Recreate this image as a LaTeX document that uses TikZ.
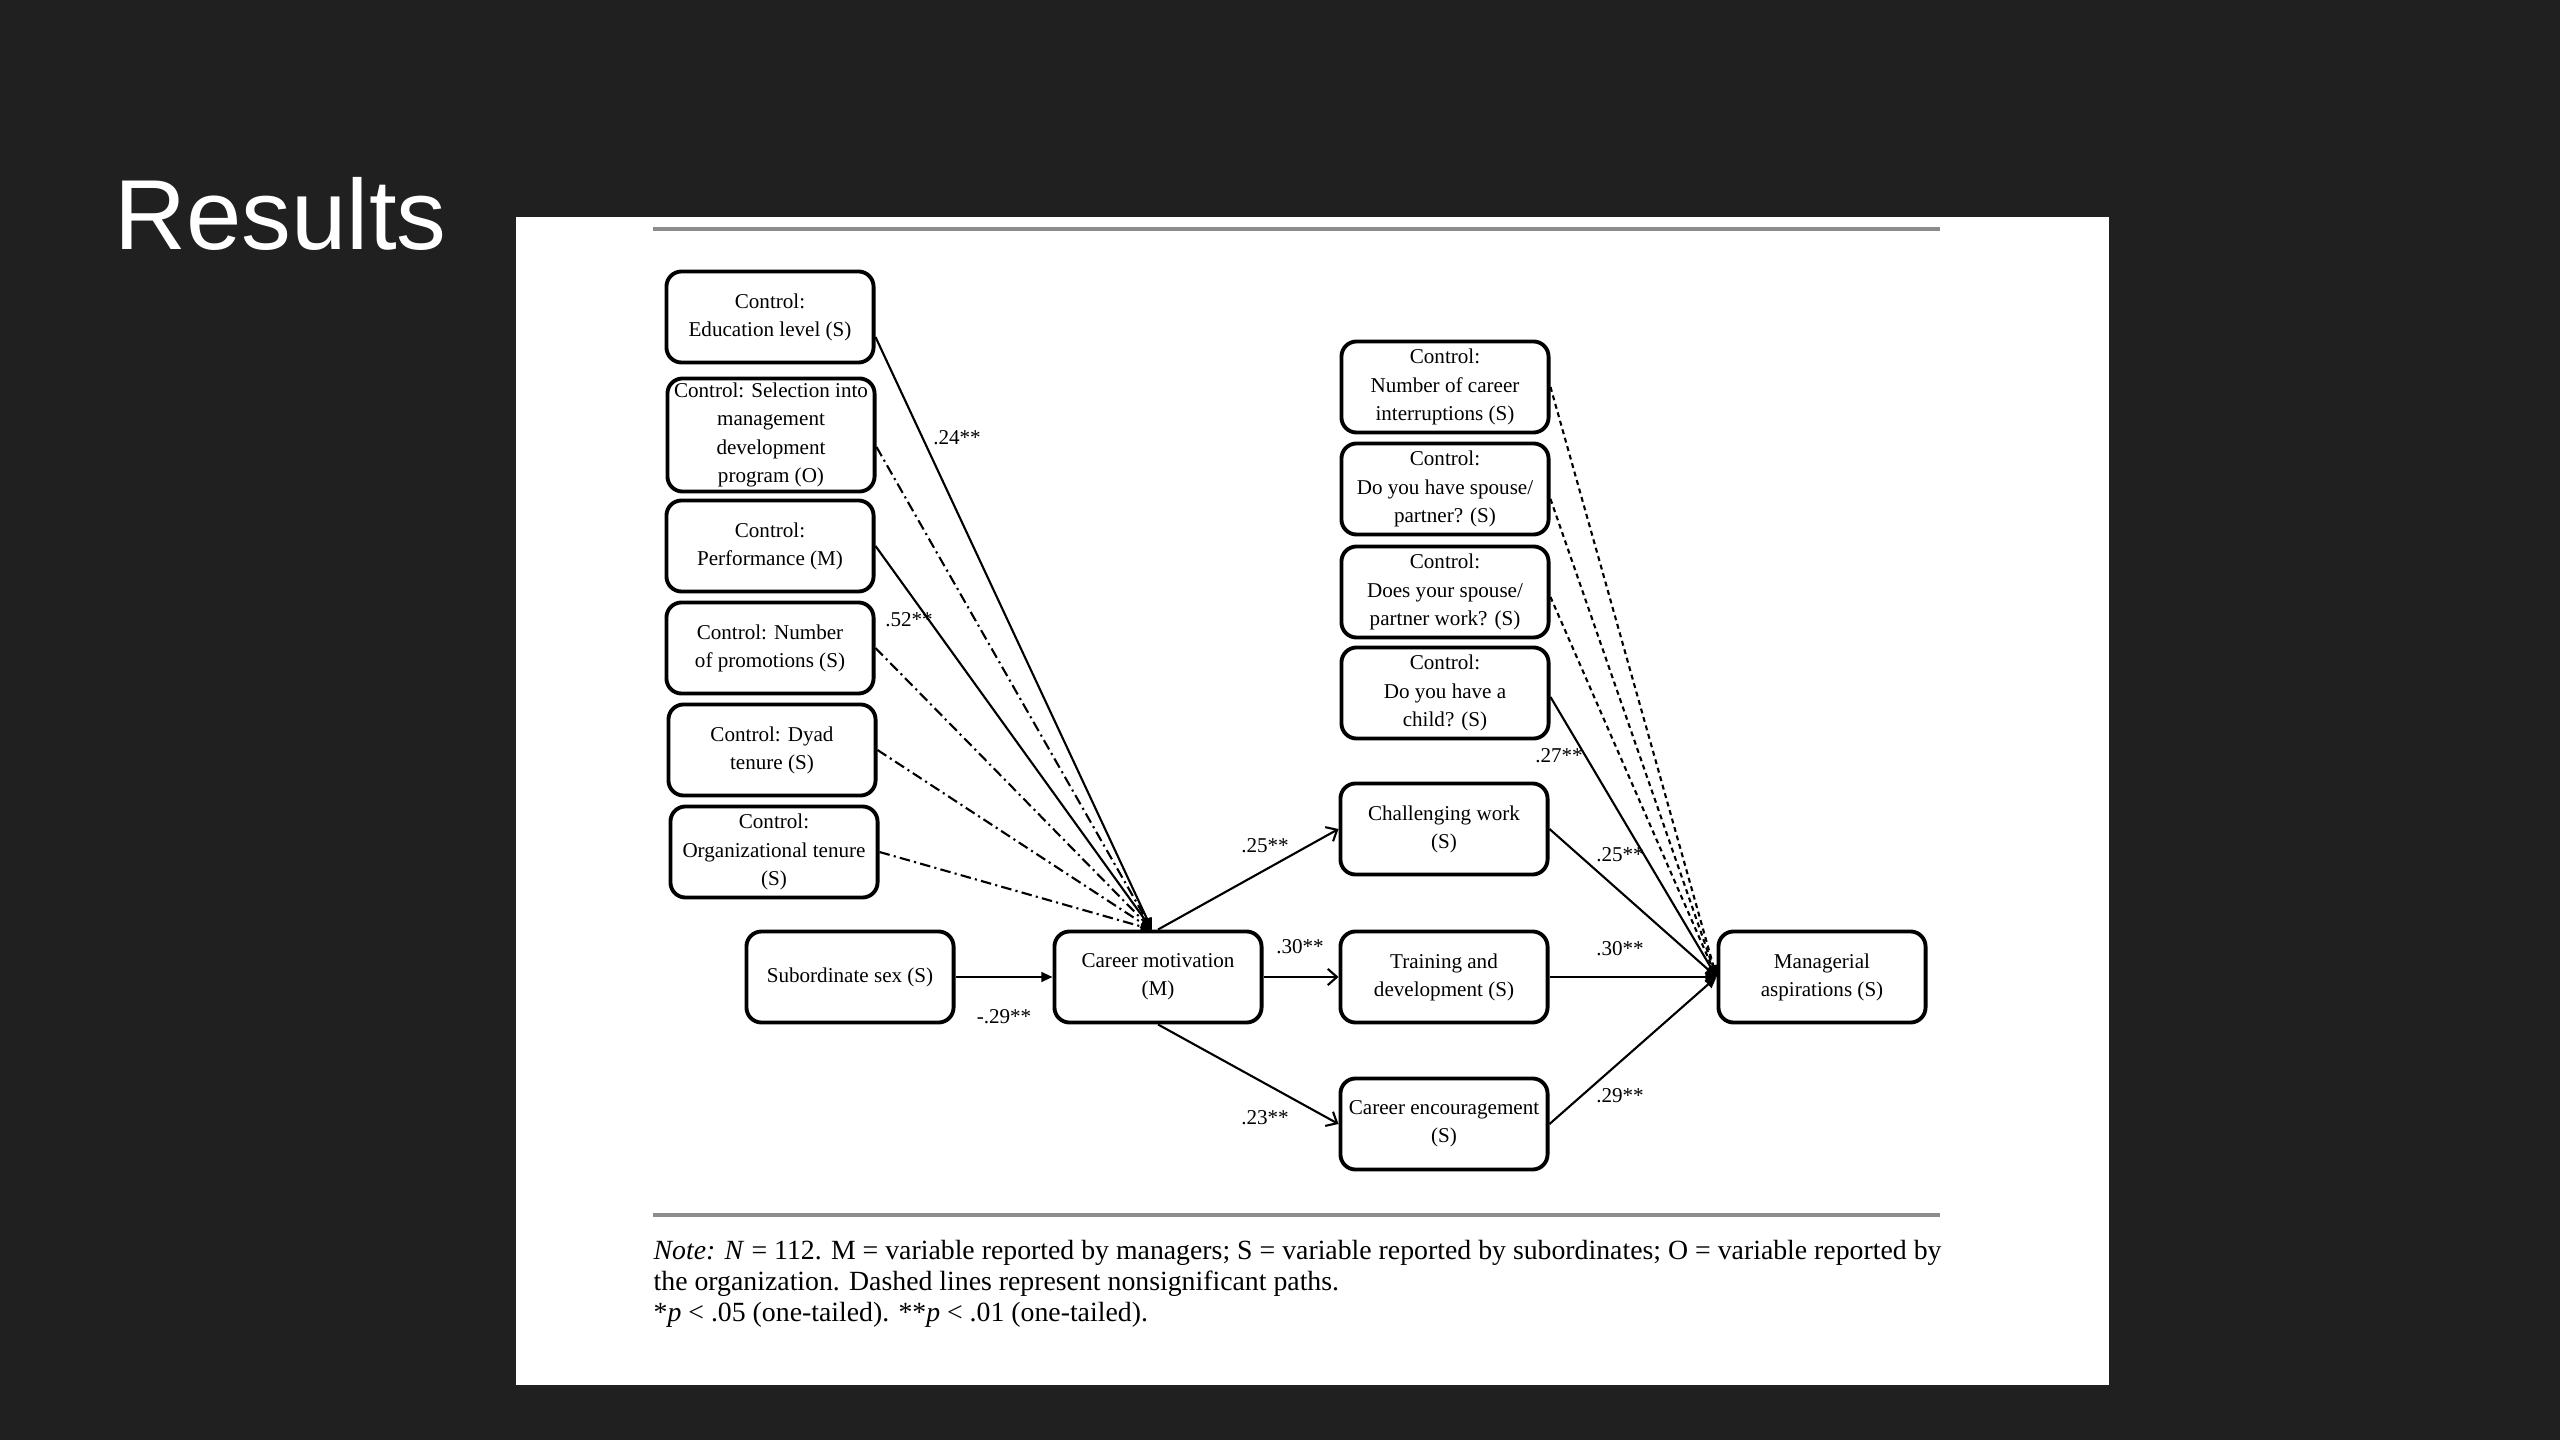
\documentclass[tikz,border=0pt]{standalone}
\usepackage{fontspec}
\setmainfont{Liberation Serif}
\newfontfamily\titlefont{Liberation Sans}
\usetikzlibrary{arrows.meta,calc}
\definecolor{bgdark}{HTML}{202020}
\begin{document}
\begin{tikzpicture}[x=0.01cm,y=-0.01cm,
  box/.style={draw=black, line width=1.1pt, rounded corners=4.3pt, fill=white,
    minimum width=2.07cm, minimum height=0.91cm, align=center, inner sep=1pt,
    font=\fontsize{6}{8}\selectfont},
  lab/.style={font=\fontsize{6}{8}\selectfont, inner sep=0pt},
  conn/.style={line width=0.6pt},
  ns/.style={conn, dash pattern=on 3pt off 1.2pt on 0.6pt off 1.2pt},
  nsr/.style={conn, dash pattern=on 1.4pt off 1.1pt},
  tipf/.style={-{Triangle[length=3.2pt,width=2.8pt]}},
  tipo/.style={-{Straight Barb[length=2.6pt,width=4.6pt]}},
  rulegray/.style={draw=black!45, line width=1pt},
  notefont/.style={font=\fontsize{7.9}{9.5}\selectfont, inner sep=0pt, anchor=base west}
]
\useasboundingbox (0,0) rectangle (2560,1440);
\fill[bgdark] (0,0) rectangle (2560,1440);
\node[anchor=base west, inner sep=0pt, text=white, font=\titlefont\fontsize{28.3}{34}\selectfont] (title) at (114,250) {Results};
\fill[white] (516,217) rectangle (2109,1385);
\draw[rulegray] (653,229) -- (1940,229);
\draw[rulegray] (653,1215) -- (1940,1215);

% left controls
\node[box] (E1) at (770,317) {Control:\\Education level (S)};
\node[box, minimum height=1.13cm] (E2) at (771,435) {Control: Selection into\\management\\development\\program (O)};
\node[box] (E3) at (770,546) {Control:\\Performance (M)};
\node[box] (E4) at (770,648) {Control: Number\\of promotions (S)};
\node[box] (E5) at (772,750) {Control: Dyad\\tenure (S)};
\node[box] (E6) at (774,852) {Control:\\Organizational tenure\\(S)};

\node[box] (SS) at (850,977) {Subordinate sex (S)};
\node[box] (CM) at (1158,977) {Career motivation\\(M)};

% right controls
\node[box] (R1) at (1445,387) {Control:\\Number of career\\interruptions (S)};
\node[box] (R2) at (1445,489) {Control:\\Do you have spouse/\\partner? (S)};
\node[box] (R3) at (1445,592) {Control:\\Does your spouse/\\partner work? (S)};
\node[box] (R4) at (1445,693) {Control:\\Do you have a\\child? (S)};

% mediators
\node[box] (CW) at (1444,829) {Challenging work\\(S)};
\node[box] (TD) at (1444,977) {Training and\\development (S)};
\node[box] (CE) at (1444,1124) {Career encouragement\\(S)};
\node[box] (MA) at (1822,977) {Managerial\\aspirations (S)};

\coordinate (cmin) at ($(CM.north)+(-6,0)$);

% left paths
\draw[conn,tipf] ($(E1.east)+(0,20)$) -- (cmin);
\draw[ns,tipf] ($(E2.east)+(0,12)$) -- (cmin);
\draw[conn,tipf] (E3.east) -- (cmin);
\draw[ns,tipf] (E4.east) -- (cmin);
\draw[ns,tipf] (E5.east) -- (cmin);
\draw[ns,tipf] (E6.east) -- (cmin);

\draw[conn,tipf] (SS.east) -- (CM.west);

% mediator paths
\draw[conn,tipo] (CM.north) -- (CW.west);
\draw[conn,tipo] (CM.east) -- (TD.west);
\draw[conn,tipo] (CM.south) -- (CE.west);

% right paths
\draw[nsr,tipf] (R1.east) -- (MA.west);
\draw[nsr,tipf] ($(R2.east)+(0,10)$) -- (MA.west);
\draw[nsr,tipf] ($(R3.east)+(0,5)$) -- (MA.west);
\draw[conn,tipf] ($(R4.east)+(0,4)$) -- (MA.west);
\draw[conn,tipf] (CW.east) -- (MA.west);
\draw[conn,tipf] (TD.east) -- (MA.west);
\draw[conn,tipf] (CE.east) -- (MA.west);

% labels
\node[lab] (l1) at (957,438) {.24**};
\node[lab] (l2) at (909,620) {.52**};
\node[lab] (l3) at (1004,1017) {-.29**};
\node[lab] (l4) at (1265,846) {.25**};
\node[lab] (l5) at (1300,947) {.30**};
\node[lab] (l6) at (1265,1118) {.23**};
\node[lab] (l7) at (1559,756) {.27**};
\node[lab] (l8) at (1620,855) {.25**};
\node[lab] (l9) at (1620,949) {.30**};
\node[lab] (l10) at (1620,1096) {.29**};

% note
\node[notefont] (n1) at (653,1259) {\makebox[12.87cm][s]{\textit{Note:} \textit{N} = 112. M = variable reported by managers; S = variable reported by subordinates; O = variable reported by}};
\node[notefont] (n2) at (653,1290) {the organization. Dashed lines represent nonsignificant paths.};
\node[notefont] (n3) at (653,1321) {*\textit{p} < .05 (one-tailed). **\textit{p} < .01 (one-tailed).};
\end{tikzpicture}
\end{document}
